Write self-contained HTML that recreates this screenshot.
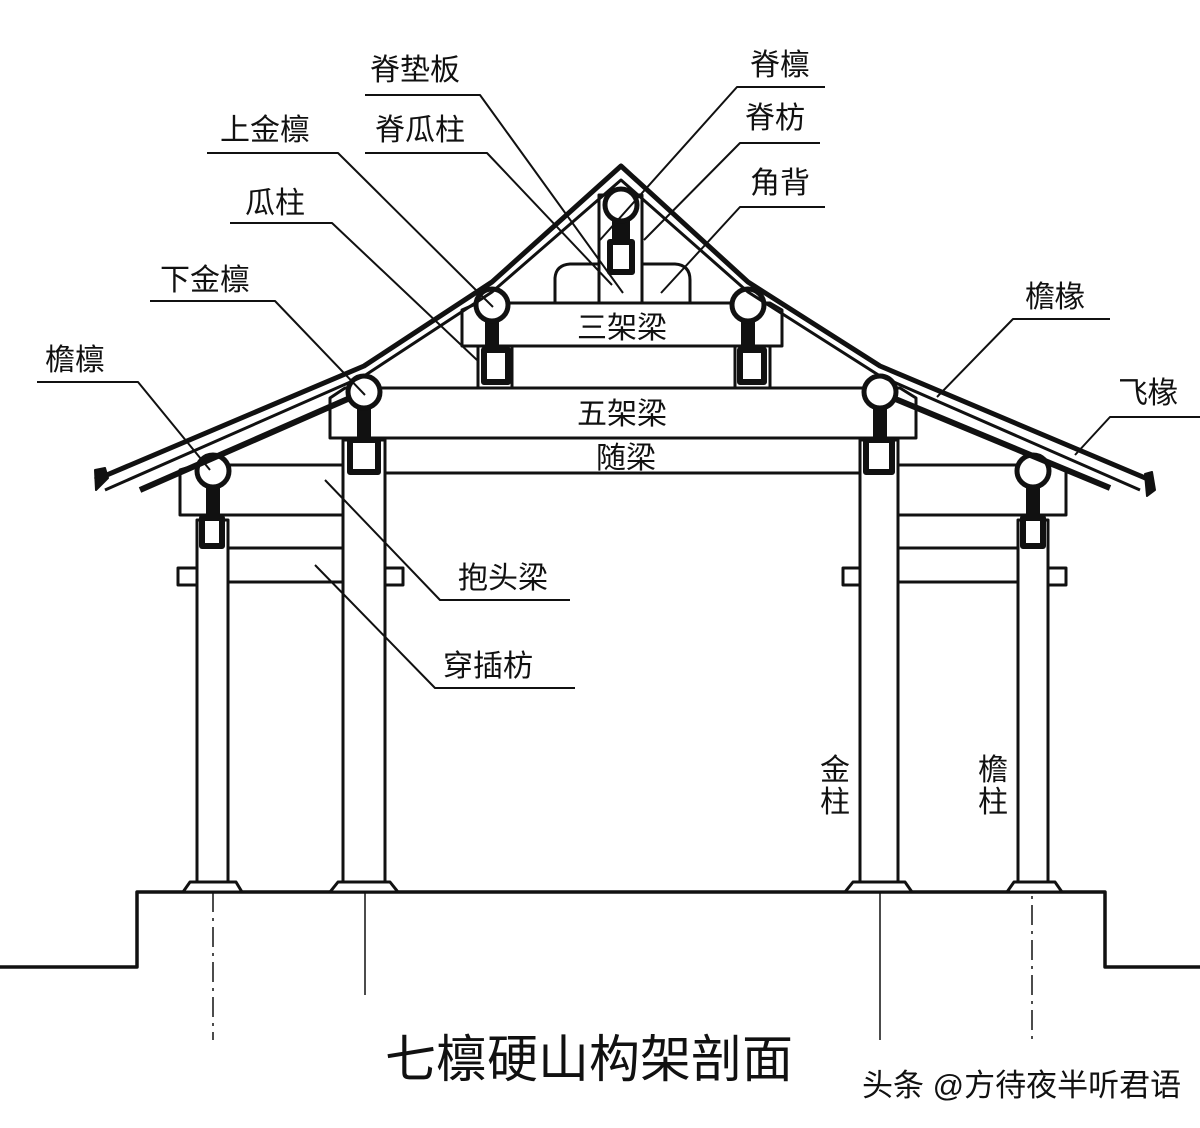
<!DOCTYPE html>
<html><head><meta charset="utf-8"><style>
html,body{margin:0;padding:0;background:#fff;}
svg{display:block;}
text{font-family:"Liberation Sans","Noto Sans CJK SC",sans-serif;fill:#111;}
</style></head><body>
<svg width="1200" height="1128" viewBox="0 0 1200 1128" xmlns="http://www.w3.org/2000/svg">
<rect width="1200" height="1128" fill="#fff"/>
<g stroke="#111" fill="none" stroke-linejoin="round">
<polyline points="0,967 137,967 137,892 1105,892 1105,967 1200,967" stroke-width="3.5"/>
<line x1="213" y1="892" x2="213" y2="1040" stroke-width="1.5" stroke-dasharray="20,6,3,6"/>
<line x1="365" y1="700" x2="365" y2="995" stroke-width="1.5"/>
<line x1="880" y1="730" x2="880" y2="1040" stroke-width="1.5"/>
<line x1="1032" y1="730" x2="1032" y2="1040" stroke-width="1.5" stroke-dasharray="20,6,3,6"/>
<line x1="213" y1="700" x2="213" y2="880" stroke-width="1.2"/>
<g stroke-width="3" fill="#fff">
<rect x="197" y="520" width="31" height="364"/>
<rect x="343" y="440" width="42" height="444"/>
<rect x="860" y="440" width="38" height="444"/>
<rect x="1018" y="520" width="30" height="364"/>
<path d="M183,892 L190,882 L236,882 L242,892Z"/>
<path d="M330,892 L338,882 L390,882 L398,892Z"/>
<path d="M845,892 L853,882 L905,882 L912,892Z"/>
<path d="M1007,892 L1014,882 L1055,882 L1062,892Z"/>
<path d="M180,470 L197,465 L343,465 L343,515 L180,515Z"/>
<path d="M898,465 L1050,465 L1066,470 L1066,515 L898,515Z"/>
<rect x="228" y="548" width="115" height="34"/>
<rect x="898" y="548" width="120" height="34"/>
<rect x="178" y="568" width="19" height="17"/>
<rect x="385" y="568" width="18" height="17"/>
<rect x="843" y="568" width="17" height="17"/>
<rect x="1048" y="568" width="18" height="17"/>
<rect x="385" y="438" width="475" height="35"/>
<path d="M330,438 L330,398 L345,388 L900,388 L916,398 L916,438Z"/>
<rect x="478" y="346" width="34" height="42"/>
<rect x="735" y="346" width="35" height="42"/>
<path d="M462,346 L462,310 L478,303 L770,303 L782,310 L782,346Z"/>
<path d="M555,303 L555,278 Q556,265 570,264 L675,264 Q690,265 690,280 L690,303Z"/>
<rect x="599" y="195" width="43" height="108"/>
</g>
<g stroke-width="6" fill="#fff">
<rect x="202" y="518" width="20" height="28"/>
<rect x="350" y="440" width="28" height="32"/>
<rect x="866" y="440" width="26" height="32"/>
<rect x="1023" y="518" width="20" height="28"/>
<rect x="484" y="350" width="24" height="32"/>
<rect x="740" y="350" width="24" height="32"/>
<rect x="610" y="242" width="22" height="30"/>
</g>
<g stroke="none" fill="#111">
<rect x="206" y="485" width="14" height="35"/>
<rect x="357" y="405" width="14" height="35"/>
<rect x="873" y="405" width="14" height="35"/>
<rect x="1026" y="485" width="14" height="35"/>
<rect x="485" y="318" width="14" height="30"/>
<rect x="741" y="318" width="14" height="30"/>
<rect x="612" y="218" width="18" height="26"/>
</g>
<g stroke-width="5" fill="#fff">
<circle cx="213" cy="471" r="16"/>
<circle cx="364" cy="392" r="16"/>
<circle cx="880" cy="392" r="16"/>
<circle cx="1033" cy="471" r="16"/>
<circle cx="492" cy="305" r="16"/>
<circle cx="748" cy="305" r="16"/>
<circle cx="621" cy="205" r="16"/>
</g>
<!-- roof -->
<polyline points="95,480 364,366 492,282 621,166 748,282 880,366 1150,480" stroke-width="5"/>
<polyline points="105,490 364,376 492,292 621,180 748,292 880,376 1140,490" stroke-width="3"/>
<polyline points="140,490 350,398" stroke-width="6"/>
<polyline points="893,398 1110,488" stroke-width="6"/>
<path d="M95,470 L105,468 L108,478 L96,490Z" fill="#111" stroke-width="2"/>
<path d="M1145,474 L1152,472 L1155,490 L1147,496Z" fill="#111" stroke-width="2"/>
<g stroke-width="2">
<polyline points="365,95 480,95 623,293"/>
<polyline points="365,153 487,153 612,285"/>
<polyline points="207,153 338,153 493,307"/>
<polyline points="230,223 332,223 477,360"/>
<polyline points="150,301 275,301 365,395"/>
<polyline points="37,382 138,382 210,470"/>
<polyline points="825,87 737,87 600,240"/>
<polyline points="820,143 740,143 644,240"/>
<polyline points="825,207 740,207 661,293"/>
<polyline points="1110,319 1013,319 937,397"/>
<polyline points="1200,417 1110,417 1075,455"/>
<polyline points="325,480 440,600 570,600"/>
<polyline points="315,565 435,688 575,688"/>
</g>
</g>
<g font-size="30">
<text x="370" y="80">脊垫板</text>
<text x="375" y="140">脊瓜柱</text>
<text x="220" y="140">上金檩</text>
<text x="245" y="213">瓜柱</text>
<text x="160" y="290">下金檩</text>
<text x="45" y="370">檐檩</text>
<text x="750" y="75">脊檩</text>
<text x="745" y="128">脊枋</text>
<text x="750" y="193">角背</text>
<text x="1025" y="307">檐椽</text>
<text x="1118" y="403">飞椽</text>
<text x="458" y="588">抱头梁</text>
<text x="443" y="676">穿插枋</text>
<text x="577" y="338">三架梁</text>
<text x="577" y="424">五架梁</text>
<text x="596" y="468">随梁</text>
<text x="820" y="780">金</text>
<text x="820" y="812">柱</text>
<text x="978" y="780">檐</text>
<text x="978" y="812">柱</text>
</g>
<text x="385" y="1077" font-size="51">七檩硬山构架剖面</text>
<text x="862" y="1096" font-size="31">头条 @方待夜半听君语</text>
</svg>
</body></html>
